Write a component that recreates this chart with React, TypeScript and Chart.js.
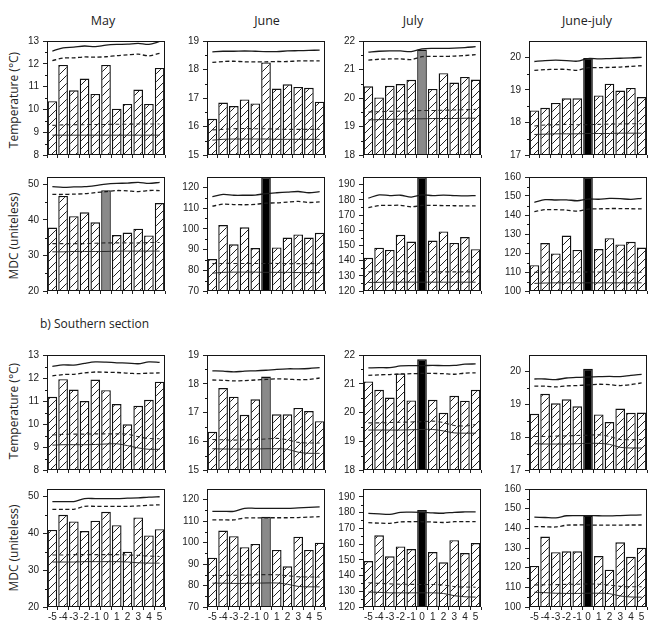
import React, { useEffect, useRef } from "react";
import { Chart, registerables } from "chart.js";

Chart.register(...registerables);

// ---- labels ----
const lags = ["-5", "-4", "-3", "-2", "-1", "0", "1", "2", "3", "4", "5"];
const months = ["May", "June", "July", "June-july"];
const sectionLabel = "b) Southern section";
const tempTitle = "Temperature (°C)";
const mdcTitle = "MDC (uniteless)";

// ---- axis ranges per month column [min, max] ----
const tempRanges = [[8, 13], [15, 19], [18, 22], [17, 20.5]];
const mdcRanges = [[20, 52], [70, 125], [120, 195], [100, 160]];
const tempStep = 1;
const mdcStep = 10;

// ---- northern section, temperature ----
const nTempMay = [10.36, 11.95, 10.84, 11.35, 10.68, 11.95, 10.03, 10.24, 10.87, 10.24, 11.82];
const nTempMayHi = [12.56, 12.7, 12.73, 12.78, 12.75, 12.82, 12.85, 12.86, 12.9, 12.85, 12.98];
const nTempMayHiDash = [12.14, 12.25, 12.26, 12.3, 12.29, 12.31, 12.36, 12.39, 12.42, 12.35, 12.46];
const nTempMayLoDash = [9.3, 9.32, 9.33, 9.33, 9.34, 9.34, 9.35, 9.35, 9.36, 9.36, 9.36];
const nTempMayLo = [8.87, 8.87, 8.87, 8.87, 8.87, 8.87, 8.87, 8.87, 8.87, 8.87, 8.87];

const nTempJun = [16.27, 16.84, 16.72, 16.95, 16.81, 18.25, 17.33, 17.48, 17.39, 17.36, 16.87];
const nTempJunHi = [18.62, 18.64, 18.64, 18.65, 18.64, 18.63, 18.63, 18.65, 18.66, 18.67, 18.68];
const nTempJunHiDash = [18.25, 18.28, 18.29, 18.27, 18.27, 18.27, 18.28, 18.28, 18.3, 18.3, 18.3];
const nTempJunLoDash = [15.88, 15.9, 15.92, 15.93, 15.92, 15.92, 15.91, 15.9, 15.9, 15.9, 15.9];
const nTempJunLo = [15.52, 15.55, 15.56, 15.56, 15.56, 15.56, 15.55, 15.55, 15.55, 15.55, 15.55];

const nTempJul = [20.41, 20.02, 20.43, 20.49, 20.64, 21.7, 20.32, 20.87, 20.54, 20.74, 20.65];
const nTempJulHi = [21.61, 21.64, 21.65, 21.65, 21.63, 21.72, 21.74, 21.74, 21.75, 21.77, 21.8];
const nTempJulHiDash = [21.33, 21.36, 21.37, 21.37, 21.35, 21.45, 21.46, 21.46, 21.47, 21.49, 21.52];
const nTempJulLoDash = [19.51, 19.52, 19.53, 19.54, 19.55, 19.56, 19.56, 19.57, 19.58, 19.59, 19.6];
const nTempJulLo = [19.23, 19.24, 19.25, 19.26, 19.27, 19.27, 19.28, 19.28, 19.28, 19.29, 19.29];

const nTempJJ = [18.37, 18.45, 18.6, 18.74, 18.74, 19.98, 18.83, 19.19, 18.98, 19.06, 18.78];
const nTempJJHi = [19.87, 19.9, 19.91, 19.9, 19.88, 19.96, 19.95, 19.96, 19.97, 19.98, 20.0];
const nTempJJHiDash = [19.6, 19.62, 19.63, 19.63, 19.6, 19.68, 19.68, 19.69, 19.7, 19.72, 19.74];
const nTempJJLoDash = [17.89, 17.92, 17.93, 17.94, 17.93, 17.93, 17.94, 17.95, 17.95, 17.96, 17.96];
const nTempJJLo = [17.63, 17.64, 17.65, 17.65, 17.65, 17.66, 17.66, 17.66, 17.67, 17.67, 17.67];

// ---- northern section, MDC ----
const nMdcMay = [37.8, 46.7, 41.0, 42.1, 39.3, 48.3, 35.7, 36.4, 37.5, 35.6, 44.7];
const nMdcMayHi = [49.3, 49.1, 49.2, 49.3, 49.6, 50.0, 50.2, 50.3, 50.5, 50.2, 50.5];
const nMdcMayHiDash = [47.1, 47.1, 47.2, 47.3, 47.6, 47.9, 48.2, 48.1, 47.9, 48.2, 48.2];
const nMdcMayLoDash = [33.3, 33.3, 33.3, 33.3, 33.4, 33.5, 33.5, 33.5, 33.5, 33.6, 33.6];
const nMdcMayLo = [31.0, 31.0, 31.1, 31.1, 31.1, 31.1, 31.2, 31.2, 31.2, 31.2, 31.2];

const nMdcJun = [85.4, 101.8, 92.5, 100.7, 90.7, 125, 91.0, 95.8, 97.3, 95.8, 98.1];
const nMdcJunHi = [115.5, 116.6, 116.2, 116.2, 116.3, 117.0, 117.4, 117.7, 118.0, 117.4, 117.9];
const nMdcJunHiDash = [110.9, 111.9, 111.7, 111.6, 111.8, 112.4, 112.5, 112.9, 113.2, 112.7, 113.0];
const nMdcJunLoDash = [83.2, 83.3, 83.3, 83.3, 83.3, 83.3, 83.3, 83.2, 83.2, 83.2, 83.3];
const nMdcJunLo = [78.6, 79.0, 79.1, 79.1, 79.1, 79.0, 79.0, 79.0, 78.9, 78.9, 78.9];

const nMdcJul = [141.8, 148.5, 147.0, 157.0, 152.5, 195, 153.2, 159.2, 151.6, 155.5, 147.5];
const nMdcJulHi = [181.1, 183.2, 182.8, 183.0, 181.8, 183.2, 182.8, 183.1, 182.8, 182.6, 182.8];
const nMdcJulHiDash = [174.8, 176.2, 176.3, 176.4, 175.4, 176.3, 176.3, 176.2, 176.1, 176.0, 176.0];
const nMdcJulLoDash = [132.7, 132.7, 132.7, 132.7, 132.7, 132.7, 132.6, 132.6, 132.6, 132.6, 132.6];
const nMdcJulLo = [125.6, 125.7, 125.8, 125.8, 125.8, 125.8, 125.8, 125.8, 125.8, 125.8, 125.8];

const nMdcJJ = [113.6, 125.2, 119.8, 129.2, 121.6, 160, 122.1, 127.8, 124.5, 125.9, 122.9];
const nMdcJJHi = [146.6, 148.1, 147.9, 148.0, 147.5, 148.4, 148.3, 148.7, 148.6, 148.2, 148.8];
const nMdcJJHiDash = [141.8, 142.8, 142.8, 142.6, 142.0, 143.1, 143.2, 143.4, 143.4, 143.3, 143.2];
const nMdcJJLoDash = [109.8, 110.0, 110.0, 110.0, 110.0, 110.0, 110.0, 110.0, 109.9, 109.9, 109.9];
const nMdcJJLo = [104.0, 104.2, 104.3, 104.3, 104.3, 104.3, 104.3, 104.3, 104.3, 104.3, 104.3];

// ---- southern section, temperature ----
const sTempMay = [11.18, 11.95, 11.5, 11.0, 11.93, 11.47, 10.87, 9.99, 10.79, 11.05, 11.84];
const sTempMayHi = [12.51, 12.57, 12.56, 12.64, 12.7, 12.69, 12.66, 12.65, 12.62, 12.7, 12.68];
const sTempMayHiDash = [12.09, 12.15, 12.16, 12.22, 12.26, 12.25, 12.24, 12.21, 12.19, 12.21, 12.22];
const sTempMayLoDash = [9.52, 9.55, 9.56, 9.56, 9.57, 9.57, 9.57, 9.56, 9.45, 9.37, 9.36];
const sTempMayLo = [9.08, 9.1, 9.1, 9.1, 9.11, 9.13, 9.14, 9.06, 8.96, 8.9, 8.9];

const sTempJun = [16.33, 17.85, 17.55, 16.92, 17.46, 18.25, 16.94, 16.94, 17.16, 17.05, 16.7];
const sTempJunHi = [18.45, 18.44, 18.41, 18.44, 18.45, 18.47, 18.5, 18.52, 18.52, 18.53, 18.56];
const sTempJunHiDash = [18.13, 18.12, 18.1, 18.11, 18.13, 18.15, 18.17, 18.16, 18.14, 18.15, 18.2];
const sTempJunLoDash = [16.06, 16.05, 16.04, 16.05, 16.06, 16.08, 16.1, 16.05, 15.96, 15.94, 15.94];
const sTempJunLo = [15.74, 15.73, 15.73, 15.73, 15.73, 15.74, 15.74, 15.72, 15.62, 15.58, 15.58];

const sTempJul = [21.08, 20.79, 20.52, 21.36, 20.42, 21.85, 20.44, 19.99, 20.58, 20.41, 20.79];
const sTempJulHi = [21.55, 21.56, 21.56, 21.62, 21.63, 21.63, 21.64, 21.63, 21.64, 21.68, 21.69];
const sTempJulHiDash = [21.29, 21.31, 21.32, 21.34, 21.35, 21.36, 21.36, 21.35, 21.33, 21.37, 21.38];
const sTempJulLoDash = [19.64, 19.64, 19.65, 19.66, 19.67, 19.68, 19.7, 19.65, 19.55, 19.53, 19.58];
const sTempJulLo = [19.39, 19.39, 19.39, 19.39, 19.4, 19.41, 19.41, 19.36, 19.29, 19.28, 19.28];

const sTempJJ = [18.71, 19.32, 19.03, 19.15, 18.94, 20.08, 18.69, 18.46, 18.87, 18.74, 18.75];
const sTempJJHi = [19.77, 19.77, 19.75, 19.8, 19.82, 19.83, 19.84, 19.85, 19.84, 19.88, 19.91];
const sTempJJHiDash = [19.55, 19.55, 19.53, 19.56, 19.57, 19.59, 19.61, 19.6, 19.57, 19.6, 19.65];
const sTempJJLoDash = [18.02, 18.02, 18.03, 18.04, 18.05, 18.06, 18.07, 18.02, 17.93, 17.92, 17.93];
const sTempJJLo = [17.8, 17.79, 17.79, 17.79, 17.8, 17.81, 17.81, 17.78, 17.69, 17.67, 17.67];

// ---- southern section, MDC ----
const sMdcMay = [40.9, 45.0, 43.2, 40.6, 43.4, 45.8, 42.2, 35.0, 44.3, 39.4, 41.1];
const sMdcMayHi = [48.6, 48.6, 48.6, 49.4, 49.4, 49.4, 49.4, 49.5, 49.6, 49.8, 49.9];
const sMdcMayHiDash = [46.5, 46.5, 46.5, 47.3, 47.3, 47.3, 47.3, 47.3, 47.4, 47.6, 47.7];
const sMdcMayLoDash = [34.1, 34.1, 34.2, 34.2, 34.2, 34.2, 34.2, 34.1, 34.0, 33.8, 33.7];
const sMdcMayLo = [32.2, 32.2, 32.2, 32.3, 32.3, 32.3, 32.3, 32.2, 32.0, 31.9, 31.9];

const sMdcJun = [93.0, 105.6, 103.0, 97.9, 99.4, 112.1, 96.6, 89.0, 102.8, 96.6, 100.0];
const sMdcJunHi = [114.6, 114.6, 114.6, 116.0, 116.0, 116.0, 116.0, 116.0, 116.2, 116.4, 116.7];
const sMdcJunHiDash = [110.6, 110.6, 110.6, 111.5, 111.5, 111.6, 111.6, 111.6, 111.7, 111.9, 112.1];
const sMdcJunLoDash = [84.7, 84.7, 84.8, 84.9, 85.0, 85.1, 85.0, 84.6, 84.1, 84.0, 84.0];
const sMdcJunLo = [81.1, 81.1, 81.0, 81.0, 81.1, 81.2, 81.2, 80.6, 79.6, 79.4, 79.4];

const sMdcJul = [149.2, 165.6, 152.2, 158.5, 156.8, 181.6, 154.9, 148.4, 162.5, 154.3, 160.6];
const sMdcJulHi = [179.5, 179.2, 178.9, 180.2, 180.3, 180.2, 179.8, 179.6, 180.2, 180.4, 180.5];
const sMdcJulHiDash = [173.6, 173.3, 173.2, 174.1, 174.2, 174.2, 174.0, 173.7, 174.2, 174.3, 174.3];
const sMdcJulLoDash = [135.4, 135.0, 134.7, 134.5, 134.4, 134.3, 134.3, 134.0, 133.0, 132.7, 132.6];
const sMdcJulLo = [129.5, 129.3, 129.0, 129.0, 129.0, 129.0, 129.0, 128.6, 127.2, 126.5, 126.3];

const sMdcJJ = [120.9, 135.8, 127.9, 128.3, 128.3, 146.5, 125.9, 119.0, 132.9, 125.5, 130.1];
const sMdcJJHi = [145.7, 145.5, 145.3, 146.4, 146.5, 146.5, 146.4, 146.3, 146.5, 146.7, 146.8];
const sMdcJJHiDash = [140.9, 140.8, 140.7, 141.6, 141.7, 141.7, 141.6, 141.6, 141.6, 141.7, 141.7];
const sMdcJJLoDash = [111.2, 111.3, 111.4, 111.5, 111.6, 111.7, 111.6, 111.2, 110.5, 110.3, 110.3];
const sMdcJJLo = [107.5, 107.3, 107.0, 106.9, 106.9, 107.0, 107.0, 106.8, 105.6, 105.1, 105.0];

// ---- panel table: [bars, hi, hiDash, loDash, lo] per row and column ----
const rowSeries = [
  [
    [nTempMay, nTempMayHi, nTempMayHiDash, nTempMayLoDash, nTempMayLo],
    [nTempJun, nTempJunHi, nTempJunHiDash, nTempJunLoDash, nTempJunLo],
    [nTempJul, nTempJulHi, nTempJulHiDash, nTempJulLoDash, nTempJulLo],
    [nTempJJ, nTempJJHi, nTempJJHiDash, nTempJJLoDash, nTempJJLo],
  ],
  [
    [nMdcMay, nMdcMayHi, nMdcMayHiDash, nMdcMayLoDash, nMdcMayLo],
    [nMdcJun, nMdcJunHi, nMdcJunHiDash, nMdcJunLoDash, nMdcJunLo],
    [nMdcJul, nMdcJulHi, nMdcJulHiDash, nMdcJulLoDash, nMdcJulLo],
    [nMdcJJ, nMdcJJHi, nMdcJJHiDash, nMdcJJLoDash, nMdcJJLo],
  ],
  [
    [sTempMay, sTempMayHi, sTempMayHiDash, sTempMayLoDash, sTempMayLo],
    [sTempJun, sTempJunHi, sTempJunHiDash, sTempJunLoDash, sTempJunLo],
    [sTempJul, sTempJulHi, sTempJulHiDash, sTempJulLoDash, sTempJulLo],
    [sTempJJ, sTempJJHi, sTempJJHiDash, sTempJJLoDash, sTempJJLo],
  ],
  [
    [sMdcMay, sMdcMayHi, sMdcMayHiDash, sMdcMayLoDash, sMdcMayLo],
    [sMdcJun, sMdcJunHi, sMdcJunHiDash, sMdcJunLoDash, sMdcJunLo],
    [sMdcJul, sMdcJulHi, sMdcJulHiDash, sMdcJulLoDash, sMdcJulLo],
    [sMdcJJ, sMdcJJHi, sMdcJJHiDash, sMdcJJLoDash, sMdcJJLo],
  ],
];

// fill of the lag-0 bar in each panel
const zeroFill = [
  ["hatch", "hatch", "grey", "black"],
  ["grey", "black", "black", "black"],
  ["hatch", "grey", "black", "black"],
  ["hatch", "grey", "black", "black"],
];

// ---- layout ----
const PLOT_W = 118;
const colLeft = [47, 207, 363, 529];
const rowTop = [39, 175, 353, 487];
const rowH = [118, 118, 119, 120];
const AXIS_W = 40;
const PAD_TOP = 8;
const PAD_RIGHT = 5;

const FONT_TICK = "'Liberation Sans', Arial, sans-serif";
const FONT_TEXT = "'Open Sans', 'Noto Sans', sans-serif";

function makeHatch(): CanvasPattern | string {
  const c = document.createElement("canvas");
  c.width = 8;
  c.height = 8;
  const g = c.getContext("2d");
  if (!g) return "#fff";
  g.fillStyle = "#fff";
  g.fillRect(0, 0, 8, 8);
  g.strokeStyle = "#222222";
  g.lineWidth = 1;
  g.beginPath();
  g.moveTo(-1, 9);
  g.lineTo(9, -1);
  g.moveTo(-1, 1);
  g.lineTo(1, -1);
  g.moveTo(7, 9);
  g.lineTo(9, 7);
  g.stroke();
  return g.createPattern(c, "repeat") || "#fff";
}

const framePlugin = {
  id: "frameBox",
  afterDraw(chart: any) {
    const { ctx, chartArea } = chart;
    const { left, top, right, bottom } = chartArea;
    const y = chart.scales.y;
    const step = chart.options.scales.y.ticks.stepSize;
    ctx.save();
    ctx.strokeStyle = "#151515";
    ctx.lineWidth = 1;
    ctx.strokeRect(Math.round(left) + 0.5, Math.round(top) + 0.5, Math.round(right - left) - 1, Math.round(bottom - top) - 1);
    // minor ticks at half steps on the value axis
    ctx.beginPath();
    for (let v = y.min + step / 2; v < y.max; v += step) {
      const py = Math.round(y.getPixelForValue(v)) + 0.5;
      ctx.moveTo(left - 2, py);
      ctx.lineTo(left, py);
    }
    ctx.stroke();
    ctx.restore();
  },
};

type PanelProps = { row: number; col: number };

function Panel({ row, col }: PanelProps) {
  const ref = useRef<HTMLCanvasElement>(null);
  const isTemp = row % 2 === 0;
  const showX = row === 3;
  const bottomExtra = showX ? 22 : 8;
  const width = AXIS_W + PLOT_W + PAD_RIGHT;
  const height = PAD_TOP + rowH[row] + bottomExtra;
  const left = colLeft[col] - AXIS_W;
  const top = rowTop[row] - PAD_TOP;

  useEffect(() => {
    const canvas = ref.current;
    if (!canvas) return;
    const [bars, hi, hiDash, loDash, lo] = rowSeries[row][col];
    const [min, max] = isTemp ? tempRanges[col] : mdcRanges[col];
    const step = isTemp ? tempStep : mdcStep;
    const hatch = makeHatch();
    const zf = zeroFill[row][col];
    const fills = bars.map((_, i) =>
      i === 5 && zf !== "hatch" ? (zf === "black" ? "#000000" : "#8a8a8a") : hatch
    );
    const line = (data: number[], width: number, dash: number[], color: string) => ({
      type: "line" as const,
      data,
      borderColor: color,
      borderWidth: width,
      borderDash: dash,
      pointRadius: 0,
      tension: 0.3,
      fill: false,
      order: 0,
    });

    const chart = new Chart(canvas, {
      type: "bar",
      data: {
        labels: lags,
        datasets: [
          {
            type: "bar",
            data: bars,
            backgroundColor: fills as any,
            borderColor: "#111111",
            borderWidth: 1.4,
            barPercentage: 0.9,
            categoryPercentage: 1,
            order: 1,
          },
          line(hi, 1.3, [], "#1a1a1a"),
          line(hiDash, 1.3, [4, 2.5], "#1a1a1a"),
          line(loDash, 1.1, [4, 3], "#2a2a2a"),
          line(lo, 1, [], "#2a2a2a"),
        ] as any,
      },
      options: {
        responsive: false,
        animation: false,
        devicePixelRatio: 1,
        layout: { padding: { top: PAD_TOP, right: PAD_RIGHT, left: 0, bottom: 0 } },
        plugins: { legend: { display: false }, tooltip: { enabled: false } },
        scales: {
          x: {
            grid: {
              display: true,
              drawOnChartArea: false,
              drawTicks: true,
              tickLength: 3,
              color: "#222",
              offset: true,
            },
            border: { display: false },
            ticks: {
              display: showX,
              font: { family: FONT_TICK, size: 10 },
              color: "#222",
              padding: 1,
              maxRotation: 0,
              autoSkip: false,
            },
            afterFit: (s: any) => {
              s.height = bottomExtra;
            },
          },
          y: {
            min,
            max,
            grid: { drawOnChartArea: false, drawTicks: true, tickLength: 4, color: "#222" },
            border: { display: false },
            ticks: {
              stepSize: step,
              includeBounds: false,
              font: { family: FONT_TICK, size: 10 },
              color: "#222",
              padding: 4,
            },
            afterFit: (s: any) => {
              s.width = AXIS_W;
            },
          },
        },
      } as any,
      plugins: [framePlugin],
    });
    return () => chart.destroy();
  }, [row, col]);

  return (
    <canvas
      ref={ref}
      width={width}
      height={height}
      style={{ position: "absolute", left, top, width, height }}
    />
  );
}

const titleStyle: React.CSSProperties = {
  position: "absolute",
  fontFamily: FONT_TEXT,
  fontSize: 12,
  color: "#222",
  whiteSpace: "nowrap",
};

const headerCenters = [103, 267, 413, 587];
const yTitleCenters = [100, 236, 411, 548];

export default function App() {
  const cells: JSX.Element[] = [];
  for (let r = 0; r < 4; r++) {
    for (let c = 0; c < 4; c++) {
      cells.push(<Panel key={`${r}-${c}`} row={r} col={c} />);
    }
  }
  return (
    <div
      style={{
        position: "absolute",
        left: 0,
        top: 0,
        width: 654,
        height: 639,
        background: "#ffffff",
        overflow: "hidden",
      }}
    >
      {months.map((m, i) => (
        <div
          key={m}
          style={{ ...titleStyle, fontSize: 12.5, left: headerCenters[i] - 60, width: 120, top: 12, textAlign: "center" }}
        >
          {m}
        </div>
      ))}
      {yTitleCenters.map((cy, r) => (
        <div
          key={`yt${r}`}
          style={{
            ...titleStyle,
            left: 13,
            top: cy,
            transform: "translate(-50%, -50%) rotate(-90deg)",
          }}
        >
          {r % 2 === 0 ? tempTitle : mdcTitle}
        </div>
      ))}
      <div style={{ ...titleStyle, left: 40, top: 315 }}>{sectionLabel}</div>
      {cells}
    </div>
  );
}
